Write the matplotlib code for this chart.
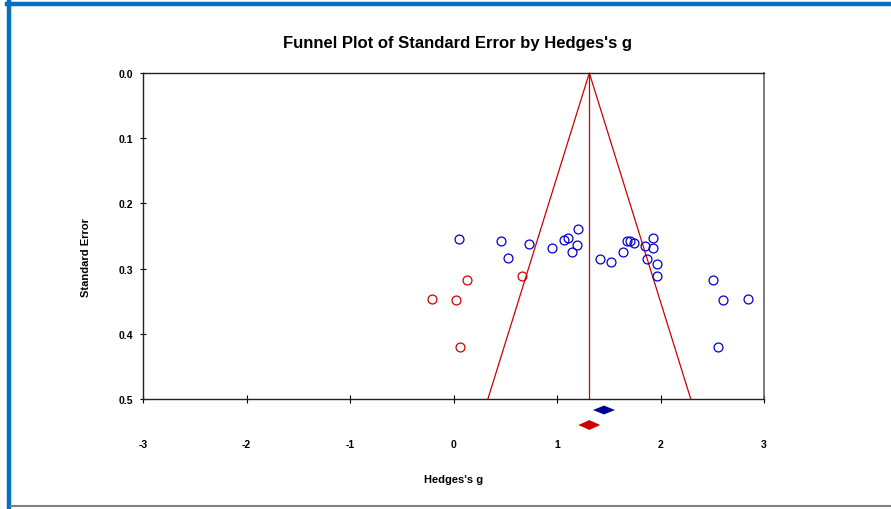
import matplotlib.pyplot as plt
from matplotlib.lines import Line2D

# observed studies (Hedges's g, standard error)
obs_g = [0.056, 0.459, 0.733, 0.527, 0.952, 1.068, 1.109, 1.206, 1.193, 1.145,
         1.419, 1.525, 1.635, 1.673, 1.705, 1.747, 1.850, 1.931, 1.924, 1.873,
         1.963, 1.969, 2.504, 2.601, 2.842, 2.559]
obs_se = [0.255, 0.258, 0.263, 0.283, 0.269, 0.256, 0.253, 0.240, 0.264, 0.275,
          0.286, 0.290, 0.274, 0.257, 0.258, 0.260, 0.265, 0.253, 0.268, 0.285,
          0.293, 0.312, 0.317, 0.348, 0.346, 0.421]

# imputed studies (trim and fill)
imp_g = [0.130, 0.665, -0.211, 0.027, 0.066]
imp_se = [0.317, 0.312, 0.347, 0.348, 0.421]

# summary estimates: point estimate, lower, upper
obs_est = [1.454, 1.348, 1.560]
adj_est = [1.312, 1.206, 1.418]

xticks = [-3, -2, -1, 0, 1, 2, 3]
yticks = [0.0, 0.1, 0.2, 0.3, 0.4, 0.5]

red = '#cc0000'
blue = '#0000cc'

plt.rcParams['font.family'] = ['Liberation Sans', 'DejaVu Sans']
plt.rcParams['axes.unicode_minus'] = False

fig = plt.figure(figsize=(8.91, 5.10), dpi=100)
ax = fig.add_axes([0.1605, 0.2157, 0.697, 0.6392])

# funnel
se_max = 0.5
center = adj_est[0]
ax.plot([center - 1.96 * se_max, center, center + 1.96 * se_max], [se_max, 0, se_max],
        color=red, lw=0.9, clip_on=False)
ax.plot([center, center], [0, se_max], color=red, lw=0.9)

ax.plot(obs_g, obs_se, 'o', mfc='none', mec=blue, ms=6.4, mew=0.9, clip_on=False)
ax.plot(imp_g, imp_se, 'o', mfc='none', mec=red, ms=6.4, mew=0.9, clip_on=False)

# diamonds under the axis
def diamond(est, y, h, color):
    ax.fill([est[1], est[0], est[2], est[0]], [y, y - h, y, y + h],
            color=color, clip_on=False, lw=0)

diamond(obs_est, 0.5169, 0.0068, '#000099')
diamond(adj_est, 0.5399, 0.0075, red)

ax.set_xlim(-3, 3)
ax.set_ylim(0.5, 0.0)
ax.set_xticks(xticks)
ax.set_xticklabels([str(v) for v in xticks])
ax.set_yticks(yticks)
ax.set_yticklabels(['%.1f' % v for v in yticks])
ax.tick_params(axis='x', direction='inout', length=6, width=0.8, pad=26,
               labelsize=7.5)
ax.tick_params(axis='y', direction='inout', length=4, width=0.8, pad=5,
               labelsize=7.5)
for lab in ax.get_xticklabels() + ax.get_yticklabels():
    lab.set_fontweight('bold')
for s in ['left', 'top', 'bottom']:
    ax.spines[s].set_linewidth(1.0)
    ax.spines[s].set_color('#222222')
ax.spines['right'].set_color('#666666')
ax.spines['right'].set_linewidth(1.2)

fig.text(0.514, 0.914, "Funnel Plot of Standard Error by Hedges's g",
         ha='center', va='center', fontsize=12, fontweight='bold',
         family=['Liberation Sans Narrow', 'Liberation Sans'])
fig.text(0.0965, 0.496, 'Standard Error', rotation=90, ha='center', va='center',
         fontsize=8, fontweight='bold')
fig.text(0.5095, 0.059, "Hedges's g", ha='center', va='center',
         fontsize=8, fontweight='bold')

# frame around the chart
fig.add_artist(Line2D([7 / 891, 1], [505 / 510, 505 / 510], color='#0070c0', lw=3.2))
fig.add_artist(Line2D([9 / 891, 9 / 891], [0, 507 / 510], color='#0070c0', lw=3.2))
fig.add_artist(Line2D([11 / 891, 1], [3 / 510, 3 / 510], color='#808080', lw=1.5))

fig.savefig('out.png', dpi=100)
